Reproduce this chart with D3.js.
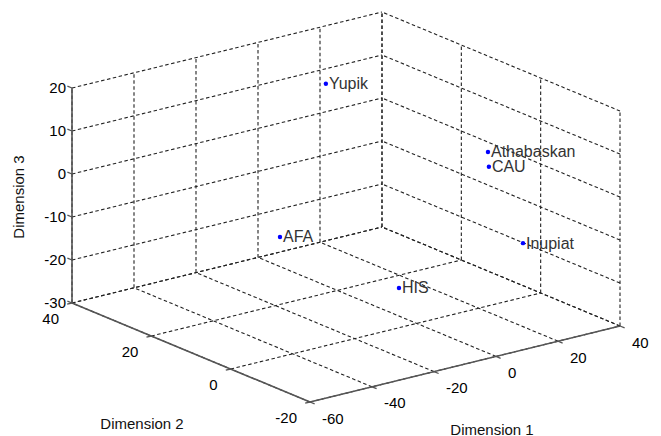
<!DOCTYPE html>
<html lang="en">
<head>
    <meta charset="UTF-8">
    <title>Dimension plot</title>
    <script src="https://cdn.jsdelivr.net/npm/d3@7"></script>
    <style>
        body { margin: 0; background: #fff; }
        svg { display: block; font-family: "Liberation Sans", Arial, sans-serif; }
    </style>
</head>
<body>
<div id="chart"></div>
<script>
    // Datos (coordenadas 3D de cada grupo)
    const groups = ["Yupik", "Athabaskan", "CAU", "Inupiat", "HIS", "AFA"];
    const dim1 = [9.1, 23.0, 23.3, 21.5, -24.9, -18.5];
    const dim2 = [30, 0, 0, -10, -15, 20];
    const dim3 = [12.6, 5.8, 2.3, -11.3, -11.6, -14.3];

    const xTicks = [-60, -40, -20, 0, 20, 40];
    const yTicks = [-20, 0, 20, 40];
    const zTicks = [-30, -20, -10, 0, 10, 20];

    const width = 661;
    const height = 436;

    // Esquina frontal inferior y vectores de cada eje en pantalla
    const origin = [310, 402];
    const vx = [310, -76];
    const vy = [-238, -99];
    const vz = [0, -215];

    const xS = d3.scaleLinear().domain([-60, 40]).range([0, 1]);
    const yS = d3.scaleLinear().domain([-20, 40]).range([0, 1]);
    const zS = d3.scaleLinear().domain([-30, 20]).range([0, 1]);

    function proj(x, y, z) {
        const a = xS(x), b = yS(y), c = zS(z);
        return [origin[0] + a * vx[0] + b * vy[0] + c * vz[0],
                origin[1] + a * vx[1] + b * vy[1] + c * vz[1]];
    }

    const svg = d3.select("#chart").append("svg")
        .attr("width", width)
        .attr("height", height);

    // Lineas de la rejilla
    const grid = [];
    xTicks.forEach(x => {
        grid.push([[x, 40, -30], [x, 40, 20]]);
        grid.push([[x, -20, -30], [x, 40, -30]]);
    });
    yTicks.forEach(y => {
        grid.push([[40, y, -30], [40, y, 20]]);
        grid.push([[-60, y, -30], [40, y, -30]]);
    });
    zTicks.forEach(z => {
        grid.push([[-60, 40, z], [40, 40, z]]);
        grid.push([[40, -20, z], [40, 40, z]]);
    });

    svg.append("g").selectAll("line")
        .data(grid)
        .enter()
        .append("line")
        .attr("x1", d => proj(...d[0])[0])
        .attr("y1", d => proj(...d[0])[1])
        .attr("x2", d => proj(...d[1])[0])
        .attr("y2", d => proj(...d[1])[1])
        .attr("stroke", "#222")
        .attr("stroke-width", 1.1)
        .attr("stroke-dasharray", "3.5,2.5");

    // Ejes
    const axes = [
        [[-60, 40, -30], [-60, 40, 20]],
        [[-60, 40, -30], [-60, -20, -30]],
        [[-60, -20, -30], [40, -20, -30]]
    ];
    svg.append("g").selectAll("line")
        .data(axes)
        .enter()
        .append("line")
        .attr("x1", d => proj(...d[0])[0])
        .attr("y1", d => proj(...d[0])[1])
        .attr("x2", d => proj(...d[1])[0])
        .attr("y2", d => proj(...d[1])[1])
        .attr("stroke", "#555")
        .attr("stroke-width", 1.6);

    // Marcas de los ejes
    function unit(v) {
        const l = Math.hypot(v[0], v[1]);
        return [v[0] / l, v[1] / l];
    }
    const tl = 5;
    const ux = unit(vx), uy = unit(vy);
    const ticks = [];
    xTicks.forEach(x => {
        const p = proj(x, -20, -30);
        ticks.push([p, [p[0] - uy[0] * tl, p[1] - uy[1] * tl]]);
    });
    yTicks.forEach(y => {
        const p = proj(-60, y, -30);
        ticks.push([p, [p[0] - ux[0] * tl, p[1] - ux[1] * tl]]);
    });
    zTicks.forEach(z => {
        const p = proj(-60, 40, z);
        ticks.push([p, [p[0] + uy[0] * tl, p[1] + uy[1] * tl]]);
    });
    svg.append("g").selectAll("line")
        .data(ticks)
        .enter()
        .append("line")
        .attr("x1", d => d[0][0])
        .attr("y1", d => d[0][1])
        .attr("x2", d => d[1][0])
        .attr("y2", d => d[1][1])
        .attr("stroke", "#555")
        .attr("stroke-width", 1.3);

    // Etiquetas de las marcas
    const tickText = svg.append("g")
        .attr("font-size", "15px")
        .attr("fill", "#000");

    tickText.selectAll(".xt")
        .data(xTicks)
        .enter()
        .append("text")
        .attr("x", d => proj(d, -20, -30)[0] + 12)
        .attr("y", d => proj(d, -20, -30)[1] + 16)
        .attr("dominant-baseline", "central")
        .text(d => d);

    tickText.selectAll(".yt")
        .data(yTicks)
        .enter()
        .append("text")
        .attr("x", d => proj(-60, d, -30)[0] - 13)
        .attr("y", d => proj(-60, d, -30)[1] + 15)
        .attr("text-anchor", "end")
        .attr("dominant-baseline", "central")
        .text(d => d);

    tickText.selectAll(".zt")
        .data(zTicks)
        .enter()
        .append("text")
        .attr("x", d => proj(-60, 40, d)[0] - 6)
        .attr("y", d => proj(-60, 40, d)[1] - 1)
        .attr("text-anchor", "end")
        .attr("dominant-baseline", "central")
        .text(d => d);

    // Titulos de los ejes
    svg.append("text")
        .attr("x", 492).attr("y", 429)
        .attr("text-anchor", "middle")
        .attr("dominant-baseline", "central")
        .attr("font-size", "15px").attr("fill", "#111")
        .text("Dimension 1");

    svg.append("text")
        .attr("x", 142).attr("y", 423)
        .attr("text-anchor", "middle")
        .attr("dominant-baseline", "central")
        .attr("font-size", "15px").attr("fill", "#111")
        .text("Dimension 2");

    svg.append("text")
        .attr("transform", "translate(18,197) rotate(-90)")
        .attr("text-anchor", "middle")
        .attr("dominant-baseline", "central")
        .attr("font-size", "15px").attr("fill", "#111")
        .text("Dimension 3");

    // Puntos y nombres
    const pts = groups.map((g, i) => ({ name: g, p: proj(dim1[i], dim2[i], dim3[i]) }));

    svg.append("g").selectAll("circle")
        .data(pts)
        .enter()
        .append("circle")
        .attr("cx", d => d.p[0])
        .attr("cy", d => d.p[1])
        .attr("r", 2.2)
        .attr("fill", "#0000ff");

    svg.append("g").selectAll("text")
        .data(pts)
        .enter()
        .append("text")
        .attr("x", d => d.p[0] + 3)
        .attr("y", d => d.p[1])
        .attr("dominant-baseline", "central")
        .attr("font-size", "16px")
        .attr("fill", "#333")
        .text(d => d.name);
</script>
</body>
</html>
